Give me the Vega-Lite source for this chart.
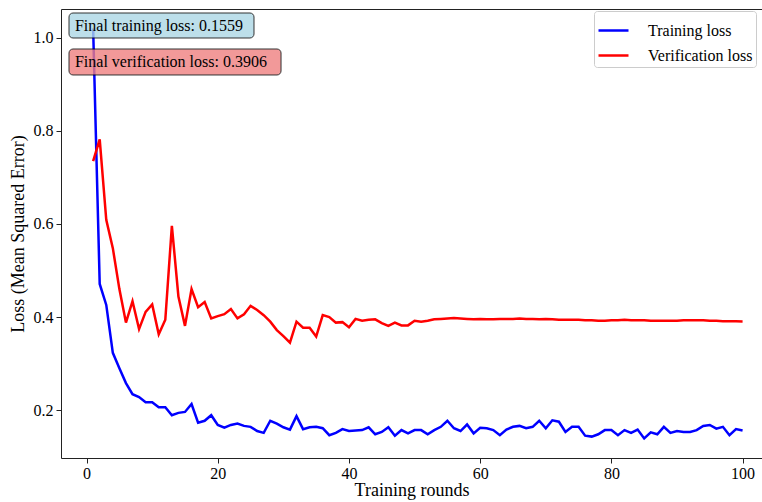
{
  "$schema": "https://vega.github.io/schema/vega-lite/v6.json",
  "width": 701,
  "height": 449,
  "autosize": {"type": "none"},
  "padding": {"left": 61, "top": 9, "right": 0, "bottom": 44},
  "background": "#ffffff",
  "config": {
    "view": {"stroke": null},
    "font": "Liberation Serif",
    "axis": {
      "grid": false,
      "domainColor": "#222222",
      "tickColor": "#222222",
      "labelColor": "#000000",
      "titleColor": "#000000",
      "labelFont": "Liberation Serif",
      "titleFont": "Liberation Serif",
      "labelFontSize": 16,
      "titleFontSize": 18,
      "titleFontWeight": "normal",
      "tickSize": 5,
      "labelPadding": 3
    },
    "legend": {
      "labelFont": "Liberation Serif",
      "labelFontSize": 16,
      "labelColor": "#000000"
    }
  },
  "datasets": {
    "loss": [
      {"round": 1, "Training loss": 1.02, "Verification loss": 0.735},
      {"round": 2, "Training loss": 0.471, "Verification loss": 0.782},
      {"round": 3, "Training loss": 0.426, "Verification loss": 0.609},
      {"round": 4, "Training loss": 0.323, "Verification loss": 0.548},
      {"round": 5, "Training loss": 0.29, "Verification loss": 0.46},
      {"round": 6, "Training loss": 0.258, "Verification loss": 0.388},
      {"round": 7, "Training loss": 0.234, "Verification loss": 0.434},
      {"round": 8, "Training loss": 0.228, "Verification loss": 0.374},
      {"round": 9, "Training loss": 0.217, "Verification loss": 0.411},
      {"round": 10, "Training loss": 0.217, "Verification loss": 0.427},
      {"round": 11, "Training loss": 0.206, "Verification loss": 0.363},
      {"round": 12, "Training loss": 0.206, "Verification loss": 0.394},
      {"round": 13, "Training loss": 0.189, "Verification loss": 0.596},
      {"round": 14, "Training loss": 0.194, "Verification loss": 0.444},
      {"round": 15, "Training loss": 0.196, "Verification loss": 0.381},
      {"round": 16, "Training loss": 0.213, "Verification loss": 0.46},
      {"round": 17, "Training loss": 0.173, "Verification loss": 0.421},
      {"round": 18, "Training loss": 0.177, "Verification loss": 0.432},
      {"round": 19, "Training loss": 0.189, "Verification loss": 0.397},
      {"round": 20, "Training loss": 0.168, "Verification loss": 0.402},
      {"round": 21, "Training loss": 0.162, "Verification loss": 0.406},
      {"round": 22, "Training loss": 0.168, "Verification loss": 0.417},
      {"round": 23, "Training loss": 0.171, "Verification loss": 0.397},
      {"round": 24, "Training loss": 0.166, "Verification loss": 0.406},
      {"round": 25, "Training loss": 0.164, "Verification loss": 0.424},
      {"round": 26, "Training loss": 0.155, "Verification loss": 0.415},
      {"round": 27, "Training loss": 0.151, "Verification loss": 0.404},
      {"round": 28, "Training loss": 0.177, "Verification loss": 0.39},
      {"round": 29, "Training loss": 0.171, "Verification loss": 0.372},
      {"round": 30, "Training loss": 0.163, "Verification loss": 0.359},
      {"round": 31, "Training loss": 0.158, "Verification loss": 0.345},
      {"round": 32, "Training loss": 0.187, "Verification loss": 0.39},
      {"round": 33, "Training loss": 0.159, "Verification loss": 0.377},
      {"round": 34, "Training loss": 0.163, "Verification loss": 0.377},
      {"round": 35, "Training loss": 0.164, "Verification loss": 0.358},
      {"round": 36, "Training loss": 0.161, "Verification loss": 0.404},
      {"round": 37, "Training loss": 0.146, "Verification loss": 0.4},
      {"round": 38, "Training loss": 0.151, "Verification loss": 0.388},
      {"round": 39, "Training loss": 0.159, "Verification loss": 0.389},
      {"round": 40, "Training loss": 0.155, "Verification loss": 0.378},
      {"round": 41, "Training loss": 0.156, "Verification loss": 0.396},
      {"round": 42, "Training loss": 0.157, "Verification loss": 0.392},
      {"round": 43, "Training loss": 0.163, "Verification loss": 0.394},
      {"round": 44, "Training loss": 0.148, "Verification loss": 0.395},
      {"round": 45, "Training loss": 0.153, "Verification loss": 0.387},
      {"round": 46, "Training loss": 0.163, "Verification loss": 0.381},
      {"round": 47, "Training loss": 0.145, "Verification loss": 0.388},
      {"round": 48, "Training loss": 0.157, "Verification loss": 0.382},
      {"round": 49, "Training loss": 0.15, "Verification loss": 0.382},
      {"round": 50, "Training loss": 0.157, "Verification loss": 0.392},
      {"round": 51, "Training loss": 0.157, "Verification loss": 0.39},
      {"round": 52, "Training loss": 0.148, "Verification loss": 0.392},
      {"round": 53, "Training loss": 0.157, "Verification loss": 0.395},
      {"round": 54, "Training loss": 0.164, "Verification loss": 0.396},
      {"round": 55, "Training loss": 0.177, "Verification loss": 0.397},
      {"round": 56, "Training loss": 0.161, "Verification loss": 0.398},
      {"round": 57, "Training loss": 0.155, "Verification loss": 0.397},
      {"round": 58, "Training loss": 0.169, "Verification loss": 0.396},
      {"round": 59, "Training loss": 0.15, "Verification loss": 0.395},
      {"round": 60, "Training loss": 0.162, "Verification loss": 0.396},
      {"round": 61, "Training loss": 0.161, "Verification loss": 0.395},
      {"round": 62, "Training loss": 0.157, "Verification loss": 0.395},
      {"round": 63, "Training loss": 0.146, "Verification loss": 0.396},
      {"round": 64, "Training loss": 0.158, "Verification loss": 0.396},
      {"round": 65, "Training loss": 0.164, "Verification loss": 0.396},
      {"round": 66, "Training loss": 0.166, "Verification loss": 0.397},
      {"round": 67, "Training loss": 0.161, "Verification loss": 0.396},
      {"round": 68, "Training loss": 0.164, "Verification loss": 0.396},
      {"round": 69, "Training loss": 0.177, "Verification loss": 0.395},
      {"round": 70, "Training loss": 0.161, "Verification loss": 0.396},
      {"round": 71, "Training loss": 0.178, "Verification loss": 0.395},
      {"round": 72, "Training loss": 0.175, "Verification loss": 0.394},
      {"round": 73, "Training loss": 0.153, "Verification loss": 0.394},
      {"round": 74, "Training loss": 0.164, "Verification loss": 0.394},
      {"round": 75, "Training loss": 0.164, "Verification loss": 0.394},
      {"round": 76, "Training loss": 0.145, "Verification loss": 0.393},
      {"round": 77, "Training loss": 0.143, "Verification loss": 0.393},
      {"round": 78, "Training loss": 0.148, "Verification loss": 0.392},
      {"round": 79, "Training loss": 0.157, "Verification loss": 0.392},
      {"round": 80, "Training loss": 0.157, "Verification loss": 0.393},
      {"round": 81, "Training loss": 0.146, "Verification loss": 0.393},
      {"round": 82, "Training loss": 0.157, "Verification loss": 0.394},
      {"round": 83, "Training loss": 0.151, "Verification loss": 0.393},
      {"round": 84, "Training loss": 0.158, "Verification loss": 0.393},
      {"round": 85, "Training loss": 0.139, "Verification loss": 0.393},
      {"round": 86, "Training loss": 0.152, "Verification loss": 0.392},
      {"round": 87, "Training loss": 0.148, "Verification loss": 0.392},
      {"round": 88, "Training loss": 0.164, "Verification loss": 0.392},
      {"round": 89, "Training loss": 0.151, "Verification loss": 0.392},
      {"round": 90, "Training loss": 0.155, "Verification loss": 0.392},
      {"round": 91, "Training loss": 0.153, "Verification loss": 0.393},
      {"round": 92, "Training loss": 0.153, "Verification loss": 0.393},
      {"round": 93, "Training loss": 0.157, "Verification loss": 0.393},
      {"round": 94, "Training loss": 0.166, "Verification loss": 0.393},
      {"round": 95, "Training loss": 0.168, "Verification loss": 0.392},
      {"round": 96, "Training loss": 0.16, "Verification loss": 0.392},
      {"round": 97, "Training loss": 0.164, "Verification loss": 0.391},
      {"round": 98, "Training loss": 0.146, "Verification loss": 0.391},
      {"round": 99, "Training loss": 0.159, "Verification loss": 0.391},
      {"round": 100, "Training loss": 0.1559, "Verification loss": 0.3906}
    ]
  },
  "data": {"name": "loss"},
  "layer": [
    {
      "transform": [{"fold": ["Training loss", "Verification loss"], "as": ["series", "loss"]}],
      "mark": {"type": "line", "strokeWidth": 2.5},
      "encoding": {
        "x": {
          "field": "round",
          "type": "quantitative",
          "scale": {"domain": [-3.9, 102.96], "nice": false, "zero": false},
          "axis": {"values": [0, 20, 40, 60, 80, 100], "title": "Training rounds", "labelPadding": 2, "titlePadding": 0}
        },
        "y": {
          "field": "loss",
          "type": "quantitative",
          "scale": {"domain": [0.097, 1.062], "nice": false, "zero": false},
          "axis": {"values": [0.2, 0.4, 0.6, 0.8, 1.0], "format": ".1f", "title": "Loss (Mean Squared Error)", "titlePadding": 6}
        },
        "color": {
          "field": "series",
          "type": "nominal",
          "scale": {"domain": ["Training loss", "Verification loss"], "range": ["#0000ff", "#ff0000"]},
          "legend": {
            "title": null,
            "orient": "none",
            "legendX": 533,
            "legendY": 2,
            "padding": 3,
            "rowPadding": -8,
            "strokeColor": "#cccccc",
            "fillColor": "#ffffff",
            "cornerRadius": 3,
            "symbolType": "stroke",
            "symbolSize": 900,
            "symbolStrokeWidth": 2.5,
            "labelOffset": 18,
            "labelExpr": "datum.label + '\u00a0\u00a0\u00a0\u00a0'"
          }
        }
      }
    },
    {
      "data": {"values": [{"label": "Final training loss: 0.1559"}]},
      "mark": {"type": "rect", "fill": "#add8e6", "stroke": "#000000", "strokeWidth": 1, "opacity": 0.8, "cornerRadius": 4},
      "encoding": {
        "x": {"datum": -2.68, "type": "quantitative", "axis": {"orient": "top", "labels": false, "ticks": false, "title": null, "domainColor": "#222222"}},
        "x2": {"datum": 25.52},
        "y": {"datum": 1.0534, "type": "quantitative", "axis": null},
        "y2": {"datum": 0.9997}
      }
    },
    {
      "data": {"values": [{"label": "Final verification loss: 0.3906"}]},
      "mark": {"type": "rect", "fill": "#f08080", "stroke": "#000000", "strokeWidth": 1, "opacity": 0.8, "cornerRadius": 4},
      "encoding": {
        "x": {"datum": -2.68, "type": "quantitative", "axis": null},
        "x2": {"datum": 29.64},
        "y": {"datum": 0.976, "type": "quantitative", "axis": null},
        "y2": {"datum": 0.9202}
      }
    },
    {
      "data": {"values": [{"label": "Final training loss: 0.1559"}]},
      "mark": {"type": "text", "align": "left", "baseline": "middle", "fontSize": 16, "color": "#000000", "font": "Liberation Serif"},
      "encoding": {
        "x": {"datum": -1.77, "type": "quantitative", "axis": null},
        "y": {"datum": 1.0265, "type": "quantitative", "axis": null},
        "text": {"field": "label"}
      }
    },
    {
      "data": {"values": [{"label": "Final verification loss: 0.3906"}]},
      "mark": {"type": "text", "align": "left", "baseline": "middle", "fontSize": 16, "color": "#000000", "font": "Liberation Serif"},
      "encoding": {
        "x": {"datum": -1.77, "type": "quantitative", "axis": null},
        "y": {"datum": 0.948, "type": "quantitative", "axis": null},
        "text": {"field": "label"}
      }
    }
  ],
  "resolve": {"axis": {"x": "independent", "y": "independent"}}
}
